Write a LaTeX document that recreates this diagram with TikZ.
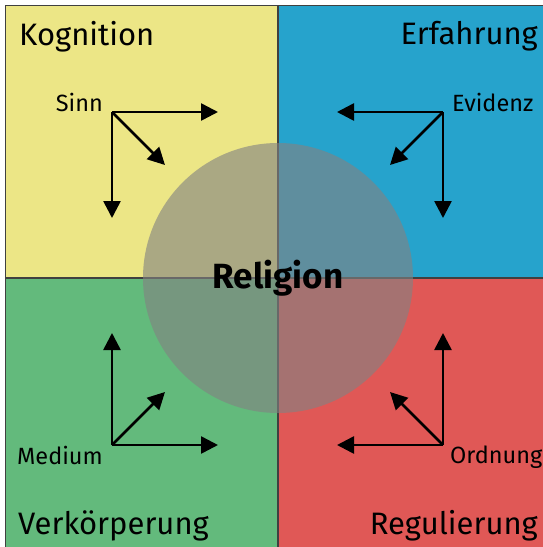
\documentclass[tikz,border=0pt]{standalone}
\usepackage{fontspec}
\setmainfont{Fira Sans}
\usetikzlibrary{arrows.meta, positioning}
\definecolor{kogyellow}{RGB}{236,230,134}
\definecolor{erfblue}{RGB}{38,163,204}
\definecolor{verkgreen}{RGB}{99,186,124}
\definecolor{regred}{RGB}{224,88,86}
\definecolor{relgrey}{RGB}{130,130,130}
\tikzstyle{quad} = [rectangle, minimum width = 272, minimum height = 272,
  inner sep = 0, draw = black!75, line width = 0.8]
\tikzstyle{title} = [inner sep = 0, font = \fontsize{31}{31}\selectfont]
\tikzstyle{lbl} = [inner sep = 0, font = \fontsize{23.5}{23.5}\selectfont]
\tikzstyle{vec} = [line width = 2.6, -{Triangle[length = 17pt, width = 17pt]}]

\begin{document}
\begin{tikzpicture}[x = 1pt, y = -1pt]
      \useasboundingbox (0, 0) rectangle (543, 547);
      \coordinate (centre) at (278, 278);
      % quadrants
      \node [quad, fill = kogyellow, anchor = south east] (kognition) at (centre) {};
      \node [quad, fill = erfblue, anchor = south west] (erfahrung) at (centre) {};
      \node [quad, fill = verkgreen, anchor = north east] (verkoerperung) at (centre) {};
      \node [quad, fill = regred, anchor = north west] (regulierung) at (centre) {};
      % titles
      \node [title, anchor = north west] (kog-title) at (19, 21) {Kognition};
      \node [title, anchor = north east] (erf-title) at (538, 21) {Erfahrung};
      \node [title, anchor = south west] (verk-title) at (18, 541) {Verkörperung};
      \node [title, anchor = south east] (reg-title) at (538, 541) {Regulierung};
      % circle
      \node [circle, fill = relgrey, fill opacity = 0.62, minimum size = 270,
        inner sep = 0] (religion-c) at (centre) {};
      \node [font = \fontsize{35}{35}\selectfont\bfseries] (religion) at (centre) {Religion};

      % Sinn
      \coordinate (sinn) at (112, 112);
      \coordinate [right = 106pt of sinn] (sinn-r);
      \coordinate [below = 106pt of sinn] (sinn-b);
      \coordinate [below right = 53pt and 53pt of sinn] (sinn-d);
      \node [lbl, above left = 0pt and 9pt of sinn] (sinn-lbl) {Sinn};
      \draw [vec] (sinn) -- (sinn-r);
      \draw [vec] (sinn) -- (sinn-b);
      \draw [vec] (sinn) -- (sinn-d);
      % Evidenz
      \coordinate (evidenz) at (443, 112);
      \coordinate [left = 106pt of evidenz] (evidenz-l);
      \coordinate [below = 106pt of evidenz] (evidenz-b);
      \coordinate [below left = 53pt and 53pt of evidenz] (evidenz-d);
      \node [lbl, above right = 0pt and 9pt of evidenz] (evidenz-lbl) {Evidenz};
      \draw [vec] (evidenz) -- (evidenz-l);
      \draw [vec] (evidenz) -- (evidenz-b);
      \draw [vec] (evidenz) -- (evidenz-d);
      % Medium
      \coordinate (medium) at (112, 445);
      \coordinate [right = 106pt of medium] (medium-r);
      \coordinate [above = 112pt of medium] (medium-a);
      \coordinate [above right = 53pt and 53pt of medium] (medium-d);
      \node [lbl, below left = 1pt and 9pt of medium] (medium-lbl) {Medium};
      \draw [vec] (medium) -- (medium-r);
      \draw [vec] (medium) -- (medium-a);
      \draw [vec] (medium) -- (medium-d);
      % Ordnung
      \coordinate (ordnung) at (443, 445);
      \coordinate [left = 106pt of ordnung] (ordnung-l);
      \coordinate [above = 112pt of ordnung] (ordnung-a);
      \coordinate [above left = 53pt and 53pt of ordnung] (ordnung-d);
      \node [lbl, below right = 1pt and 7pt of ordnung] (ordnung-lbl) {Ordnung};
      \draw [vec] (ordnung) -- (ordnung-l);
      \draw [vec] (ordnung) -- (ordnung-a);
      \draw [vec] (ordnung) -- (ordnung-d);
\end{tikzpicture}
\end{document}
